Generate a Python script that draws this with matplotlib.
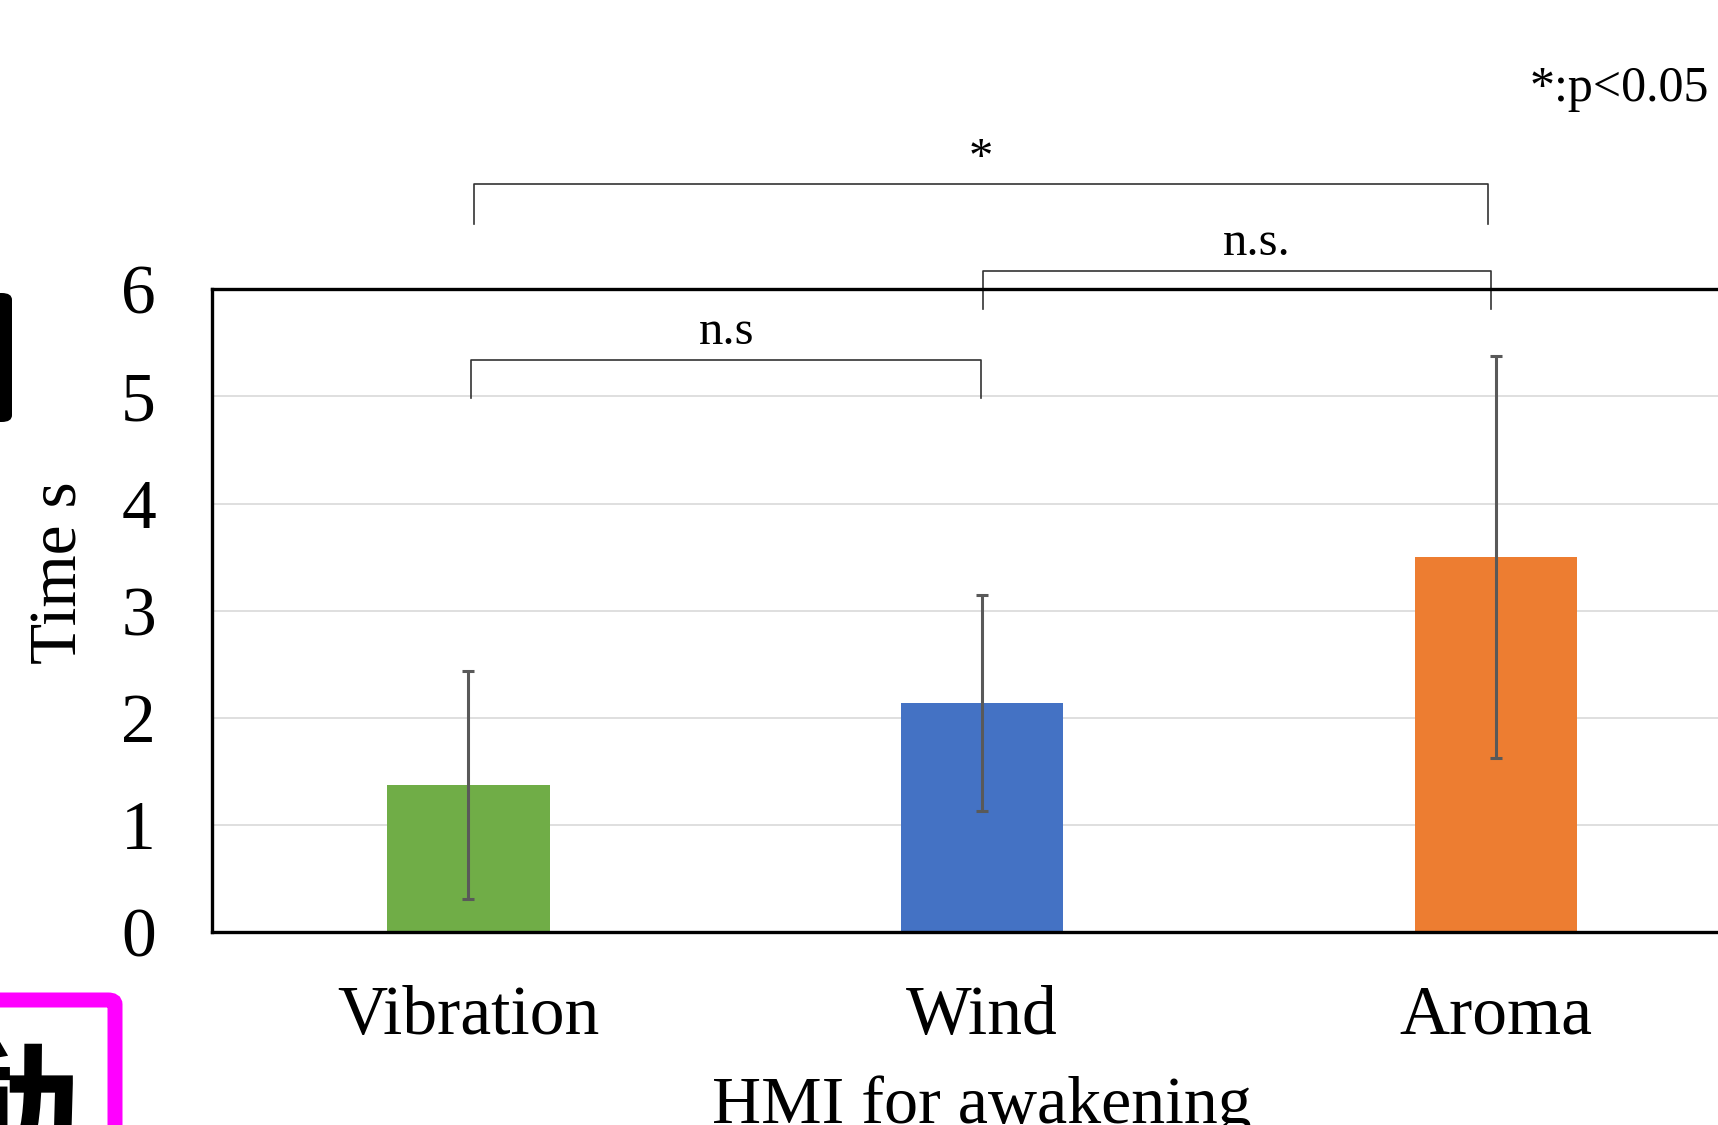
import matplotlib
matplotlib.use("Agg")
from matplotlib import pyplot as plt
from matplotlib.patches import FancyBboxPatch

# data
categories = ['Vibration', 'Wind', 'Aroma']
mean_time = [1.375, 2.14, 3.50]
sd_time = [1.06, 1.005, 1.875]
bar_colors = ['#70AD47', '#4472C4', '#ED7D31']

# significance brackets: (left, right, top y, leg bottom y, label, label x, label y)
brackets = [
    (0.01, 1.985, 6.98, 6.61, '*', 0.998, 7.10),
    (0.005, 0.998, 5.34, 4.99, 'n.s', 0.503, 5.49),
    (1.002, 1.99, 6.17, 5.82, 'n.s.', 1.535, 6.32),
]

plt.rcParams['font.family'] = ['Liberation Serif', 'DejaVu Serif']

fig = plt.figure(figsize=(17.18, 11.25), dpi=100)
W, H = 1718, 1125

# bits of the surrounding slide that show at the edges of the screenshot
fig.patches.append(FancyBboxPatch((-40 / W, (H - 422) / H), 52 / W, 129 / H,
                                  boxstyle='round,pad=0,rounding_size=0.006',
                                  transform=fig.transFigure, facecolor='black',
                                  edgecolor='none'))
fig.patches.append(FancyBboxPatch((-60 / W, -80 / H), 175 / W, (H - 1000 + 80) / H,
                                  boxstyle='round,pad=0,rounding_size=0.004',
                                  transform=fig.transFigure, facecolor='none',
                                  edgecolor='#FF00FF', linewidth=10.8))
fig.text(80 / W, (H - 1172) / H, '動', family=['Noto Sans CJK JP'], weight='bold',
         fontsize=110, ha='right', va='baseline', color='black')

ax = fig.add_axes([211.5 / W, (H - 932.4) / H, (1753 - 211.5) / W, 643.1 / H])

x = list(range(len(categories)))
ax.bar(x, mean_time, width=0.316, color=bar_colors, zorder=2)
ax.errorbar(x, mean_time, yerr=sd_time, fmt='none', ecolor='#595959',
            elinewidth=2.2, capsize=4.3, capthick=2.2, zorder=3)

ax.set_xlim(-0.5, 2.5)
ax.set_ylim(0, 6)
ax.set_yticks(range(0, 7))
ax.set_xticks(x)
ax.set_xticklabels(categories)
ax.tick_params(axis='both', length=0, labelsize=50)
ax.tick_params(axis='y', pad=40)
ax.tick_params(axis='x', pad=38)

ax.yaxis.grid(True, color='#d9d9d9', linewidth=1.2)
ax.set_axisbelow(True)
for side in ['top', 'bottom', 'left']:
    ax.spines[side].set_linewidth(2.4)
    ax.spines[side].set_color('black')
ax.spines['right'].set_visible(False)

ax.set_xlabel('HMI for awakening', fontsize=49, va='top')
ax.xaxis.set_label_coords(0.5, -0.222)
ax.set_ylabel('Time s', fontsize=48.5, va='center')
ax.yaxis.set_label_coords(-0.098, 0.56)

for x1, x2, yt, yb, label, lx, ly in brackets:
    ax.plot([x1, x1, x2, x2], [yb, yt, yt, yb], color='#333333', linewidth=1.2,
            solid_joinstyle='round', clip_on=False)
    ax.text(lx, ly, label, fontsize=35, ha='center', va='baseline')

ax.text(2.414, 7.76, '*:p<0.05', fontsize=36, ha='right', va='baseline')

plt.savefig('out.png', dpi=100)
